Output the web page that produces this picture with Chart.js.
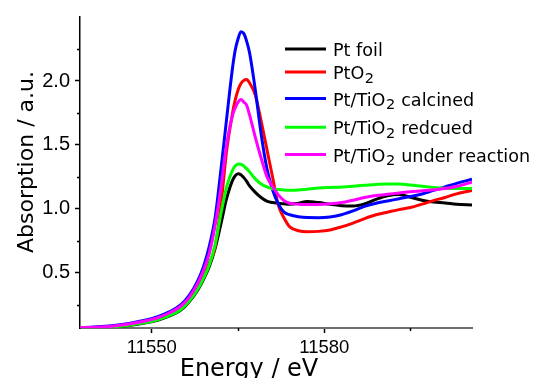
<!DOCTYPE html>
<html>
<head>
<meta charset="utf-8">
<script src="https://cdn.jsdelivr.net/npm/chart.js@4.4.1/dist/chart.umd.min.js"></script>
<style>
  body { margin: 0; background: #fff; }
  #wrap { width: 535px; height: 378px; }
</style>
</head>
<body>
<div id="wrap"><canvas id="xanesChart" width="535" height="378"></canvas></div>
<script>
// Pt L3-edge XANES
const energies = [11537.5, 11540, 11543, 11546, 11549, 11551, 11553, 11555, 11556.5, 11558,
  11559, 11560, 11561, 11562, 11563, 11564, 11564.5, 11565, 11565.5, 11566,
  11566.5, 11567, 11568, 11569, 11570, 11571, 11572, 11573, 11574, 11575.5,
  11577, 11579, 11581, 11583, 11585, 11587, 11589, 11591, 11593, 11595,
  11597, 11599, 11601, 11603, 11605.7];

const ptFoil = [0.071, 0.072, 0.077, 0.089, 0.110, 0.131, 0.162, 0.208, 0.275, 0.368,
  0.450, 0.550, 0.690, 0.880, 1.080, 1.220, 1.260, 1.276, 1.268, 1.245,
  1.215, 1.180, 1.130, 1.090, 1.062, 1.050, 1.045, 1.040, 1.036, 1.045,
  1.058, 1.050, 1.036, 1.026, 1.023, 1.040, 1.075, 1.103, 1.113, 1.092,
  1.068, 1.054, 1.047, 1.037, 1.031];

const ptO2 = [0.071, 0.074, 0.081, 0.097, 0.120, 0.143, 0.178, 0.225, 0.290, 0.390,
  0.480, 0.580, 0.700, 1.020, 1.450, 1.740, 1.850, 1.930, 1.980, 2.005,
  2.012, 1.985, 1.890, 1.690, 1.470, 1.250, 1.030, 0.930, 0.860, 0.830,
  0.822, 0.825, 0.836, 0.860, 0.890, 0.925, 0.955, 0.975, 0.995, 1.012,
  1.038, 1.065, 1.090, 1.118, 1.145];

const calcined = [0.072, 0.078, 0.088, 0.106, 0.132, 0.158, 0.196, 0.250, 0.325, 0.440,
  0.550, 0.710, 0.930, 1.300, 1.700, 2.090, 2.240, 2.330, 2.385, 2.370,
  2.310, 2.220, 1.930, 1.590, 1.320, 1.150, 1.040, 0.975, 0.955, 0.940,
  0.933, 0.932, 0.938, 0.955, 0.985, 1.020, 1.045, 1.062, 1.080, 1.097,
  1.117, 1.145, 1.172, 1.200, 1.232];

const reduced = [0.071, 0.073, 0.078, 0.091, 0.112, 0.134, 0.166, 0.213, 0.280, 0.375,
  0.460, 0.565, 0.720, 0.960, 1.170, 1.300, 1.335, 1.352, 1.350, 1.335,
  1.315, 1.290, 1.235, 1.195, 1.172, 1.158, 1.152, 1.148, 1.146, 1.148,
  1.155, 1.163, 1.168, 1.172, 1.178, 1.185, 1.192, 1.196, 1.195, 1.187,
  1.177, 1.168, 1.162, 1.160, 1.160];

const underReaction = [0.072, 0.076, 0.084, 0.101, 0.126, 0.150, 0.187, 0.240, 0.310, 0.420,
  0.520, 0.655, 0.870, 1.160, 1.500, 1.726, 1.790, 1.835, 1.856, 1.835,
  1.810, 1.735, 1.560, 1.400, 1.255, 1.175, 1.110, 1.065, 1.045, 1.037,
  1.035, 1.035, 1.040, 1.050, 1.068, 1.090, 1.105, 1.115, 1.125, 1.135,
  1.142, 1.150, 1.160, 1.175, 1.210];

const xMajorTicks = [11550, 11580];
const xMinorTicks = [11565, 11595];
const yMajorTicks = [0.5, 1.0, 1.5, 2.0];
const yMinorTicks = [0.25, 0.75, 1.25, 1.75, 2.25];

const toPoints = arr => energies.map((e, i) => ({ x: e, y: arr[i] }));

const makeSet = (label, data, color, order) => ({
  label,
  data: toPoints(data),
  borderColor: color,
  backgroundColor: color,
  borderWidth: 3,
  pointRadius: 0,
  fill: false,
  cubicInterpolationMode: 'monotone',
  order
});

// minor ticks (shorter marks between the labelled ones)
const minorTicks = {
  id: 'minorTicks',
  afterDraw(chart) {
    const ctx = chart.ctx;
    const xs = chart.scales.x, ys = chart.scales.y;
    const area = chart.chartArea;
    ctx.save();
    ctx.strokeStyle = '#000';
    ctx.lineWidth = 1.5;
    ctx.beginPath();
    xMinorTicks.forEach(v => {
      const px = Math.round(xs.getPixelForValue(v)) + 0.5;
      ctx.moveTo(px, area.bottom);
      ctx.lineTo(px, area.bottom + 3);
    });
    yMinorTicks.forEach(v => {
      const py = Math.round(ys.getPixelForValue(v)) + 0.5;
      ctx.moveTo(area.left, py);
      ctx.lineTo(area.left - 3, py);
    });
    ctx.stroke();
    ctx.restore();
  }
};

// legend with subscript 2
const subLegend = {
  id: 'subLegend',
  afterDraw(chart) {
    const ctx = chart.ctx;
    const rows = [49, 72, 98.5, 127.3, 154.5];
    const mainFont = '17.6px "DejaVu Sans"';
    const subFont = '14.5px "DejaVu Sans"';
    ctx.save();
    chart.data.datasets.forEach((ds, i) => {
      const y = rows[i];
      ctx.strokeStyle = ds.borderColor;
      ctx.lineWidth = 3;
      ctx.beginPath();
      ctx.moveTo(285, y);
      ctx.lineTo(326, y);
      ctx.stroke();

      ctx.fillStyle = '#000';
      ctx.textBaseline = 'alphabetic';
      let x = 333;
      const parts = ds.label.split('₂');
      parts.forEach((p, k) => {
        ctx.font = mainFont;
        ctx.fillText(p, x, y + 7);
        x += ctx.measureText(p).width;
        if (k < parts.length - 1) {
          ctx.font = subFont;
          ctx.fillText('2', x + 0.5, y + 10.5);
          x += ctx.measureText('2').width + 1;
        }
      });
    });
    ctx.restore();
  }
};

// axis titles
const axisTitles = {
  id: 'axisTitles',
  afterDraw(chart) {
    const ctx = chart.ctx;
    ctx.save();
    ctx.fillStyle = '#000';
    ctx.textAlign = 'center';
    ctx.textBaseline = 'alphabetic';
    ctx.font = '24px "DejaVu Sans"';
    ctx.fillText('Energy / eV', 249, 376);
    ctx.translate(33, 162);
    ctx.rotate(-Math.PI / 2);
    ctx.font = '22px "DejaVu Sans"';
    ctx.fillText('Absorption / a.u.', 0, 0);
    ctx.restore();
  }
};

const ctx = document.getElementById('xanesChart').getContext('2d');
new Chart(ctx, {
  type: 'line',
  data: {
    datasets: [
      makeSet('Pt foil', ptFoil, '#000000', 5),
      makeSet('PtO₂', ptO2, '#ff0000', 4),
      makeSet('Pt/TiO₂ calcined', calcined, '#0000ff', 3),
      makeSet('Pt/TiO₂ redcued', reduced, '#00ff00', 2),
      makeSet('Pt/TiO₂ under reaction', underReaction, '#ff00ff', 1)
    ]
  },
  options: {
    responsive: false,
    animation: false,
    layout: { padding: { top: 14, right: 63, left: 0, bottom: 0 } },
    plugins: {
      legend: { display: false },
      tooltip: { enabled: false }
    },
    scales: {
      x: {
        type: 'linear',
        min: 11537.5,
        max: 11605.7,
        afterBuildTicks: s => { s.ticks = xMajorTicks.map(v => ({ value: v })); },
        afterFit: s => { s.height = 50; },
        ticks: {
          color: '#000',
          font: { family: 'Liberation Sans', size: 18.5 },
          padding: 4,
          maxRotation: 0,
          autoSkip: false,
          callback: v => String(v)
        },
        grid: { drawOnChartArea: false, tickLength: 5, tickColor: '#000', tickWidth: 1.5 },
        border: { color: '#6f6f6f', width: 2 }
      },
      y: {
        type: 'linear',
        min: 0.07,
        max: 2.5,
        afterBuildTicks: s => { s.ticks = yMajorTicks.map(v => ({ value: v })); },
        afterFit: s => { s.width = 80; },
        ticks: {
          color: '#000',
          font: { family: 'Liberation Sans', size: 20 },
          padding: 5,
          callback: v => v.toFixed(1)
        },
        grid: { drawOnChartArea: false, tickLength: 5, tickColor: '#000', tickWidth: 1.5 },
        border: { color: '#000', width: 1.5 }
      }
    }
  },
  plugins: [minorTicks, subLegend, axisTitles]
});
</script>
</body>
</html>
